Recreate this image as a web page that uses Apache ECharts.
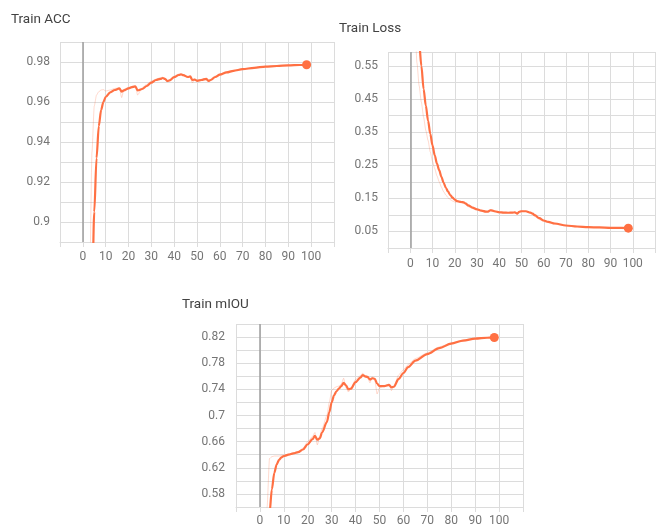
<!DOCTYPE html>
<html>
<head>
<meta charset="utf-8">
<script src="https://cdn.jsdelivr.net/npm/echarts@6/dist/echarts.min.js"></script>
<style>
  html, body { margin: 0; padding: 0; background: #fff; }
  #chart { width: 658px; height: 527px; }
</style>
</head>
<body>
<div id="chart"></div>
<script>
// Train ACC
const accSteps = [2, 3, 4, 5, 6, 7, 8, 9, 10, 12, 14, 16, 17, 18, 20, 22, 23, 24, 26, 28, 30, 32, 34, 35, 36, 37, 38, 40, 42, 43, 44, 46, 47, 48, 49, 50, 52, 54, 55, 56, 58, 60, 63, 66, 70, 75, 80, 85, 90, 95, 98];
const accSmooth = [0.60, 0.78, 0.86, 0.905, 0.932, 0.948, 0.956, 0.960, 0.9625, 0.9648, 0.966, 0.9668, 0.9652, 0.9658, 0.9668, 0.9676, 0.9678, 0.9658, 0.9665, 0.968, 0.9697, 0.971, 0.9716, 0.972, 0.9716, 0.9705, 0.9708, 0.9724, 0.9735, 0.9738, 0.9734, 0.9725, 0.9728, 0.971, 0.9712, 0.9706, 0.971, 0.9716, 0.9706, 0.971, 0.9725, 0.9737, 0.9748, 0.9756, 0.9764, 0.9771, 0.9777, 0.978, 0.9783, 0.9785, 0.9786];
const accRaw = [0.70, 0.87, 0.935, 0.958, 0.9635, 0.9652, 0.966, 0.9662, 0.9655, 0.966, 0.9668, 0.967, 0.9622, 0.9664, 0.9672, 0.968, 0.968, 0.9635, 0.9672, 0.9688, 0.9705, 0.9714, 0.9722, 0.9724, 0.9718, 0.970, 0.9712, 0.973, 0.974, 0.974, 0.9732, 0.9722, 0.973, 0.9695, 0.9716, 0.9703, 0.9714, 0.9718, 0.970, 0.9716, 0.973, 0.974, 0.9752, 0.9758, 0.9766, 0.9772, 0.9778, 0.9781, 0.9784, 0.9785, 0.9786];

// Train Loss
const lossSteps = [1, 2, 3, 4, 5, 6, 7, 8, 9, 10, 11, 12, 13, 14, 15, 16, 17, 18, 19, 20, 21, 22, 23, 24, 25, 26, 28, 30, 32, 34, 35, 36, 37, 38, 40, 42, 44, 46, 47, 48, 49, 50, 52, 54, 55, 56, 58, 60, 62, 65, 70, 75, 80, 85, 90, 95, 98];
const lossSmooth = [0.95, 0.82, 0.70, 0.62, 0.55, 0.48, 0.43, 0.385, 0.345, 0.31, 0.28, 0.255, 0.235, 0.215, 0.197, 0.182, 0.17, 0.16, 0.152, 0.146, 0.142, 0.14, 0.139, 0.138, 0.134, 0.129, 0.122, 0.117, 0.113, 0.110, 0.110, 0.114, 0.113, 0.111, 0.108, 0.107, 0.1065, 0.1068, 0.1075, 0.104, 0.109, 0.111, 0.111, 0.107, 0.104, 0.099, 0.090, 0.083, 0.079, 0.074, 0.068, 0.065, 0.063, 0.062, 0.061, 0.0605, 0.060];
const lossRaw = [0.90, 0.70, 0.56, 0.49, 0.44, 0.395, 0.355, 0.325, 0.29, 0.262, 0.24, 0.218, 0.20, 0.184, 0.17, 0.16, 0.152, 0.146, 0.142, 0.139, 0.138, 0.138, 0.136, 0.136, 0.13, 0.125, 0.119, 0.114, 0.111, 0.108, 0.110, 0.116, 0.111, 0.109, 0.106, 0.106, 0.106, 0.107, 0.108, 0.101, 0.111, 0.112, 0.110, 0.105, 0.101, 0.095, 0.086, 0.080, 0.077, 0.072, 0.067, 0.064, 0.0625, 0.0615, 0.0608, 0.0603, 0.060];

// Train mIOU
const miouSteps = [2, 3, 4, 5, 6, 7, 8, 9, 10, 12, 14, 16, 18, 20, 22, 23, 24, 25, 26, 28, 29, 30, 31, 32, 33, 34, 35, 36, 37, 38, 40, 42, 43, 44, 45, 46, 47, 48, 49, 50, 52, 54, 55, 56, 58, 60, 62, 65, 70, 75, 80, 85, 90, 95, 98];
const miouSmooth = [0.45, 0.50, 0.55, 0.587, 0.612, 0.625, 0.632, 0.636, 0.638, 0.640, 0.642, 0.644, 0.648, 0.656, 0.664, 0.669, 0.663, 0.665, 0.674, 0.690, 0.705, 0.720, 0.731, 0.737, 0.741, 0.745, 0.750, 0.746, 0.740, 0.741, 0.751, 0.758, 0.762, 0.760, 0.759, 0.755, 0.757, 0.756, 0.749, 0.745, 0.745, 0.747, 0.743, 0.744, 0.756, 0.765, 0.774, 0.784, 0.794, 0.803, 0.810, 0.8147, 0.8175, 0.819, 0.8194];
const miouRaw = [0.40, 0.56, 0.634, 0.637, 0.638, 0.638, 0.638, 0.639, 0.639, 0.641, 0.643, 0.645, 0.65, 0.66, 0.668, 0.674, 0.655, 0.668, 0.68, 0.70, 0.72, 0.738, 0.742, 0.744, 0.745, 0.748, 0.757, 0.742, 0.736, 0.742, 0.755, 0.761, 0.765, 0.758, 0.758, 0.75, 0.759, 0.755, 0.733, 0.742, 0.746, 0.748, 0.738, 0.745, 0.762, 0.77, 0.778, 0.787, 0.796, 0.805, 0.811, 0.8155, 0.818, 0.8192, 0.8195];

const xTicks = [0, 100]; // labelled x range

const ORANGE = '#ff7043';
const GRID_COLOR = '#dcdcdc';
const LABEL_COLOR = '#757575';
const FONT = 'Roboto';

const chart = echarts.init(document.getElementById('chart'));

function pairs(steps, vals) {
  return steps.map((s, i) => [s, vals[i]]);
}

function xAxisFor(gridIndex, margin) {
  return {
    type: 'value',
    gridIndex: gridIndex,
    min: -10,
    max: 110,
    interval: 10,
    axisLine: { show: true, lineStyle: { color: GRID_COLOR } },
    axisTick: { show: true, length: 5, lineStyle: { color: GRID_COLOR } },
    splitLine: { show: true, lineStyle: { color: GRID_COLOR } },
    axisLabel: {
      color: LABEL_COLOR, fontFamily: FONT, fontSize: 12, margin: margin,
      formatter: v => (v < xTicks[0] || v > xTicks[1]) ? '' : String(v)
    }
  };
}

function yAxisFor(gridIndex, min, max, interval, showLabel, fmt, margin) {
  return {
    type: 'value',
    gridIndex: gridIndex,
    min: min,
    max: max,
    interval: interval,
    axisLine: { show: false },
    axisTick: { show: true, length: 5, lineStyle: { color: GRID_COLOR } },
    splitLine: { show: true, lineStyle: { color: GRID_COLOR } },
    axisLabel: {
      color: LABEL_COLOR, fontFamily: FONT, fontSize: 12, margin: margin,
      formatter: v => showLabel(v) ? fmt(v) : ''
    }
  };
}

function seriesFor(idx, steps, raw, smooth) {
  const last = steps.length - 1;
  return [
    {
      type: 'line', xAxisIndex: idx, yAxisIndex: idx,
      data: pairs(steps, raw),
      showSymbol: false, silent: true,
      smooth: 0.2, smoothMonotone: 'x',
      lineStyle: { color: ORANGE, width: 1, opacity: 0.25 },
      z: 2
    },
    {
      type: 'line', xAxisIndex: idx, yAxisIndex: idx,
      data: pairs(steps, smooth),
      showSymbol: false, silent: true,
      smooth: 0.3, smoothMonotone: 'x',
      lineStyle: { color: ORANGE, width: 2.2 },
      z: 3,
      markLine: {
        silent: true, symbol: 'none', label: { show: false },
        lineStyle: { color: '#9e9e9e', width: 1.5, type: 'solid' },
        data: [{ xAxis: 0 }]
      }
    },
    {
      type: 'scatter', xAxisIndex: idx, yAxisIndex: idx,
      data: [[steps[last], smooth[last]]],
      symbolSize: 9, silent: true,
      itemStyle: { color: ORANGE, opacity: 1 },
      z: 4
    }
  ];
}

const hundredths = v => Math.round(v * 100);
const short = v => String(+v.toFixed(2));

const option = {
  animation: false,
  title: [
    { text: 'Train ACC', left: 11, top: 12, padding: 0,
      textStyle: { fontFamily: FONT, fontSize: 13.5, fontWeight: 'normal', color: '#424242', lineHeight: 16 } },
    { text: 'Train Loss', left: 339, top: 21, padding: 0,
      textStyle: { fontFamily: FONT, fontSize: 13.5, fontWeight: 'normal', color: '#424242', lineHeight: 16 } },
    { text: 'Train mIOU', left: 182, top: 297, padding: 0,
      textStyle: { fontFamily: FONT, fontSize: 13.5, fontWeight: 'normal', color: '#424242', lineHeight: 16 } }
  ],
  grid: [
    { left: 60, top: 42, width: 274, height: 200 },
    { left: 388, top: 52, width: 278, height: 196 },
    { left: 236, top: 324, width: 287, height: 183 }
  ],
  xAxis: [xAxisFor(0, 9), xAxisFor(1, 10), xAxisFor(2, 8)],
  yAxis: [
    yAxisFor(0, 0.89, 0.99, 0.01,
      v => hundredths(v) % 2 === 0 && hundredths(v) >= 90 && hundredths(v) <= 98, short, 10),
    yAxisFor(1, 0, 0.592, 0.05,
      v => hundredths(v) % 10 === 5, v => v.toFixed(2), 10),
    yAxisFor(2, 0.56, 0.84, 0.02,
      v => hundredths(v) % 4 === 2, short, 11)
  ],
  series: [].concat(
    seriesFor(0, accSteps, accRaw, accSmooth),
    seriesFor(1, lossSteps, lossRaw, lossSmooth),
    seriesFor(2, miouSteps, miouRaw, miouSmooth)
  )
};

chart.setOption(option);
</script>
</body>
</html>
